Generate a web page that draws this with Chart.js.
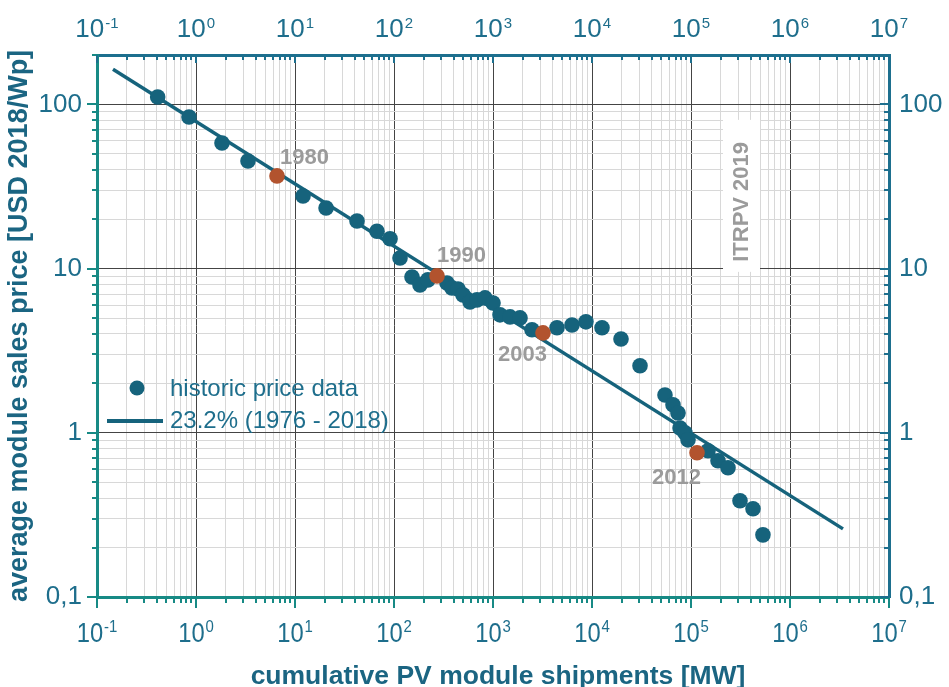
<!DOCTYPE html>
<html><head><meta charset="utf-8">
<script src="https://cdn.jsdelivr.net/npm/chart.js@4"></script>
<style>html,body{margin:0;padding:0;background:#fff;}canvas{display:block}</style>
</head><body>
<canvas id="c" width="949" height="687"></canvas>
<script>
// ---------- data ----------
const histX = [0.41, 0.85, 1.83, 3.35, 12.05, 20.6, 42.3, 67.3, 91.2, 115, 152, 183, 220, 343, 385, 443, 498, 586, 689, 830, 1000, 1177, 1485, 1875, 2477, 4430, 6280, 8690, 12620, 19630, 30550, 54600, 65800, 73900, 77500, 86900, 93300, 148500, 187500, 236500, 312500, 423000, 533000];
const histY = [111, 83.8, 58.2, 45.2, 27.7, 23.4, 19.5, 16.9, 15.2, 11.6, 8.9, 7.96, 8.54, 8.18, 7.63, 7.52, 6.92, 6.27, 6.45, 6.63, 6.18, 5.23, 5.08, 5.01, 4.24, 4.36, 4.54, 4.74, 4.36, 3.73, 2.56, 1.70, 1.48, 1.32, 1.07, 1.0, 0.906, 0.777, 0.676, 0.612, 0.386, 0.345, 0.239];
const highlightX = [6.58, 272, 3199, 115000];
const highlightY = [36.7, 9.03, 4.06, 0.756];
const highlightLabels = ['1980', '1990', '2003', '2012'];
const fitX = [0.145, 3.43e6];
const fitY = [164, 0.26];
const xTickExps = [-1, 0, 1, 2, 3, 4, 5, 6, 7];
const yTickValues = [0.1, 1, 10, 100];
const yTickLabels = ['0,1', '1', '10', '100'];
const legendLabels = ['historic price data', '23.2% (1976 - 2018)'];
const xTitle = 'cumulative PV module shipments [MW]';
const yTitle = 'average module sales price [USD 2018/Wp]';
const watermark = 'ITRPV 2019';

// ---------- styles ----------
const FONT = 'Liberation Sans, Arial, sans-serif';
const C_POINT = '#16637c', C_ORANGE = '#b2532e', C_LABEL = '#1e6e8c', C_TITLE = '#1b6582';
const AX1 = '#178a85', AX2 = '#1d6f8e', C_ANN = '#9b9b9b';
const GRID_MAJ = '#444444', GRID_MIN = '#d8d8d8';

function isMajor(v){ const l = Math.log10(v); return Math.abs(l - Math.round(l)) < 1e-6; }
function logTicks(min, max){
  const t = [];
  for (let e = Math.floor(Math.log10(min) + 1e-9); e <= Math.ceil(Math.log10(max)); e++) {
    for (let s = 1; s < 10; s++) {
      const v = +(s * Math.pow(10, e)).toPrecision(6);
      if (v >= min * 0.9999 && v <= max * 1.0001) t.push({value: v, major: s === 1});
    }
  }
  return t;
}
const gridColor = c => (c.tick && isMajor(c.tick.value)) ? GRID_MAJ : GRID_MIN;
const yCallback = v => { const i = yTickValues.findIndex(t => Math.abs(t - v) / t < 1e-6); return i >= 0 ? yTickLabels[i] : ''; };

const custom = {
  id: 'custom',
  beforeDatasetsDraw(chart){
    const ctx = chart.ctx, xs = chart.scales.x, ys = chart.scales.y;
    const cx = xs.getPixelForValue(3.2e5), cy = ys.getPixelForValue(25.5);
    ctx.save();
    ctx.fillStyle = '#fff';
    ctx.fillRect(cx - 18, cy - 82, 37, 152);
    ctx.translate(cx, cy);
    ctx.rotate(-Math.PI / 2);
    ctx.font = 'bold 22px ' + FONT;
    ctx.fillStyle = C_ANN;
    ctx.textAlign = 'center'; ctx.textBaseline = 'middle';
    ctx.fillText(watermark, 0, 1);
    ctx.restore();
  },
  afterDatasetsDraw(chart){
    const ctx = chart.ctx;
    const meta = chart.getDatasetMeta(0);
    const offs = [[3, -18], [0, -20], [-45, 22], [-45, 25]];
    ctx.save();
    ctx.font = 'bold 22px ' + FONT;
    ctx.fillStyle = C_ANN;
    ctx.textAlign = 'left'; ctx.textBaseline = 'middle';
    meta.data.forEach((el, i) => {
      ctx.fillText(highlightLabels[i], el.x + offs[i][0], el.y + offs[i][1]);
    });
    ctx.restore();
  },
  afterDraw(chart){
    const ctx = chart.ctx, a = chart.chartArea;
    const xs = chart.scales.x, ys = chart.scales.y;
    ctx.save();
    // tick marks
    ctx.lineWidth = 2;
    ctx.strokeStyle = AX1;
    xs.ticks.forEach(t => { const p = Math.round(xs.getPixelForValue(t.value)); const L = isMajor(t.value) ? 11 : 6;
      ctx.beginPath(); ctx.moveTo(p, a.bottom); ctx.lineTo(p, a.bottom + L); ctx.stroke(); });
    ys.ticks.forEach(t => { const p = Math.round(ys.getPixelForValue(t.value)); const L = isMajor(t.value) ? 10 : 5;
      ctx.beginPath(); ctx.moveTo(a.left, p); ctx.lineTo(a.left - L, p); ctx.stroke(); });
    ctx.strokeStyle = AX2;
    xs.ticks.forEach(t => { const p = Math.round(xs.getPixelForValue(t.value)); const L = isMajor(t.value) ? 8 : 5;
      ctx.beginPath(); ctx.moveTo(p, a.top); ctx.lineTo(p, a.top + L); ctx.stroke(); });
    ys.ticks.forEach(t => { const p = Math.round(ys.getPixelForValue(t.value)); const L = isMajor(t.value) ? 9 : 5;
      ctx.beginPath(); ctx.moveTo(a.right, p); ctx.lineTo(a.right - L, p); ctx.stroke(); });
    // x tick labels with superscripts
    ctx.fillStyle = C_LABEL;
    ctx.textBaseline = 'alphabetic'; ctx.textAlign = 'left';
    const drawPow = (e, px, base, fsMain, fsSup, supRise, sx) => {
      ctx.font = fsMain + 'px ' + FONT;
      const w1 = ctx.measureText('10').width;
      ctx.font = fsSup + 'px ' + FONT;
      const es = String(e);
      const w2 = ctx.measureText(es).width;
      const tot = (w1 + w2 + 1) * sx;
      ctx.save();
      ctx.translate(px - tot / 2, 0);
      ctx.scale(sx, 1);
      ctx.font = fsMain + 'px ' + FONT;
      ctx.fillText('10', 0, base);
      ctx.font = fsSup + 'px ' + FONT;
      ctx.fillText(es, w1 + 1, base - supRise);
      ctx.restore();
    };
    xTickExps.forEach(e => {
      const px = xs.getPixelForValue(Math.pow(10, e));
      drawPow(e, px, a.top - 18, 26, 15, 9, 1.0);
      drawPow(e, px, a.bottom + 45, 27, 17, 10, 0.88);
    });
    // x title
    ctx.fillStyle = C_TITLE;
    ctx.font = 'bold 26.5px ' + FONT;
    ctx.textAlign = 'center';
    ctx.fillText(xTitle, (a.left + a.right) / 2 + 5, a.bottom + 87);
    // legend
    const lx = a.left, ly = a.top;
    ctx.fillStyle = C_POINT;
    ctx.beginPath(); ctx.arc(lx + 40, ly + 333, 7.5, 0, Math.PI * 2); ctx.fill();
    ctx.strokeStyle = C_POINT; ctx.lineWidth = 4;
    ctx.beginPath(); ctx.moveTo(lx + 10, ly + 366); ctx.lineTo(lx + 66, ly + 366); ctx.stroke();
    ctx.fillStyle = C_LABEL;
    ctx.font = '24px ' + FONT;
    ctx.textAlign = 'left'; ctx.textBaseline = 'middle';
    ctx.fillText(legendLabels[0], lx + 73, ly + 334);
    ctx.fillText(legendLabels[1], lx + 73, ly + 366);
    ctx.restore();
  }
};

const gridBase = {drawTicks: false, color: gridColor, lineWidth: 1};
const yTicks = {autoSkip: false, font: {family: FONT, size: 26}, color: C_LABEL, callback: yCallback};

new Chart(document.getElementById('c'), {
  type: 'scatter',
  data: {
    datasets: [
      {label: 'highlight', data: highlightX.map((x, i) => ({x, y: highlightY[i]})),
       pointRadius: 7.8, pointHoverRadius: 7.8, pointBackgroundColor: C_ORANGE, pointBorderWidth: 0, order: 1},
      {label: legendLabels[0], data: histX.map((x, i) => ({x, y: histY[i]})),
       pointRadius: 7.8, pointHoverRadius: 7.8, pointBackgroundColor: C_POINT, pointBorderWidth: 0, order: 2},
      {label: legendLabels[1], data: fitX.map((x, i) => ({x, y: fitY[i]})),
       showLine: true, pointRadius: 0, borderColor: C_POINT, borderWidth: 3.5, fill: false, order: 3}
    ]
  },
  options: {
    responsive: false, animation: false, devicePixelRatio: 1,
    layout: {padding: 0},
    plugins: {legend: {display: false}, tooltip: {enabled: false}},
    scales: {
      x: {type: 'logarithmic', position: 'bottom', min: 0.1, max: 1e7,
          afterBuildTicks: s => { s.ticks = logTicks(s.min, s.max); },
          afterFit: s => { s.height = 90; },
          ticks: {display: false, autoSkip: false},
          grid: gridBase, border: {color: AX1, width: 3}},
      x2: {type: 'logarithmic', position: 'top', min: 0.1, max: 1e7,
          afterBuildTicks: s => { s.ticks = logTicks(s.min, s.max); },
          afterFit: s => { s.height = 55; },
          ticks: {display: false, autoSkip: false},
          grid: {drawTicks: false, drawOnChartArea: false}, border: {color: AX2, width: 3}},
      y: {type: 'logarithmic', position: 'left', min: 0.1, max: 200,
          afterBuildTicks: s => { s.ticks = logTicks(s.min, s.max); },
          afterFit: s => { s.width = 97; },
          ticks: Object.assign({padding: 15}, yTicks),
          title: {display: true, text: yTitle, color: C_TITLE,
                  font: {family: FONT, size: 27, weight: 'bold', lineHeight: 1}, padding: {top: 6, bottom: 0}},
          grid: gridBase, border: {color: AX1, width: 3}},
      y2: {type: 'logarithmic', position: 'right', min: 0.1, max: 200,
          afterBuildTicks: s => { s.ticks = logTicks(s.min, s.max); },
          afterFit: s => { s.width = 60; },
          ticks: Object.assign({padding: 10}, yTicks),
          grid: {drawTicks: false, drawOnChartArea: false}, border: {color: AX2, width: 3}}
    }
  },
  plugins: [custom]
});
</script>
</body></html>
